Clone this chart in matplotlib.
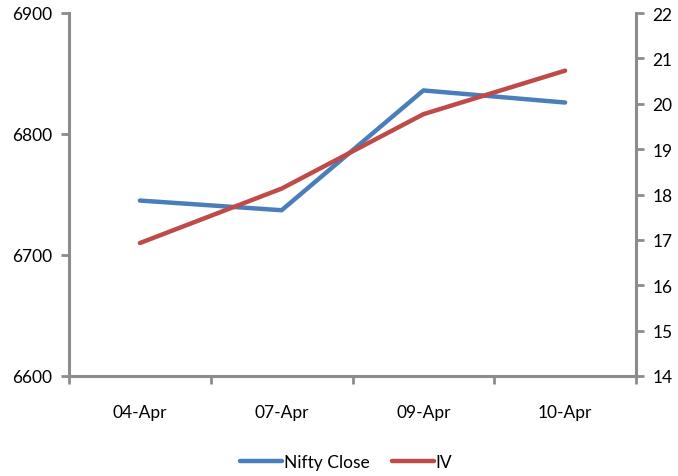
import matplotlib
matplotlib.use('Agg')
import matplotlib.pyplot as plt
import numpy as np

# Data
dates = ['04-Apr', '07-Apr', '09-Apr', '10-Apr']
nifty_close = [6745, 6737, 6836, 6826]
iv = [16.93, 18.13, 19.77, 20.73]

blue = '#4A7EBB'
red = '#BE4B48'
grey = '#8C8C8C'

plt.rcParams['font.family'] = ['Lato', 'DejaVu Sans']
plt.rcParams['font.size'] = 12.5

fig = plt.figure(figsize=(6.78, 4.77), dpi=100)
ax = fig.add_axes([69/678, 1 - 377/477, (636-69)/678, (377-14)/477])
ax2 = ax.twinx()

x = np.arange(len(dates))
l1, = ax.plot(x, nifty_close, color=blue, lw=3.2, solid_capstyle='round', label='Nifty Close')
l2, = ax2.plot(x, iv, color=red, lw=3.2, solid_capstyle='round', label='IV')

ax.set_xlim(-0.5, len(dates) - 0.5)
ax.set_ylim(6600, 6900)
ax.set_yticks([6600, 6700, 6800, 6900])
ax2.set_ylim(14, 22)
ax2.set_yticks(range(14, 23))

# category labels centred, ticks on the boundaries
ax.set_xticks(np.arange(-0.5, len(dates)), minor=False)
ax.set_xticklabels([''] * (len(dates) + 1))
ax.set_xticks(x, minor=True)
ax.set_xticklabels(dates, minor=True)
ax.tick_params(axis='x', which='minor', length=0, pad=20)
ax.tick_params(axis='x', which='major', length=6, width=2, color=grey, direction='out')
ax.tick_params(axis='y', length=6, width=2, color=grey, direction='out', pad=6)
ax2.tick_params(axis='y', length=6, width=2, color=grey, direction='out', pad=6)

for a in (ax, ax2):
    a.spines['top'].set_visible(False)
    for s in ('left', 'right', 'bottom'):
        a.spines[s].set_color(grey)
        a.spines[s].set_linewidth(2.2)
ax.spines['right'].set_visible(False)
ax2.spines['left'].set_visible(False)
ax2.spines['bottom'].set_visible(False)

fig.legend(handles=[l1, l2], loc='center', bbox_to_anchor=(346/678, 1 - 463/477),
           ncol=2, frameon=False, handlelength=2.4, handletextpad=0.1, columnspacing=1.3)

plt.savefig('out.png', dpi=100)
